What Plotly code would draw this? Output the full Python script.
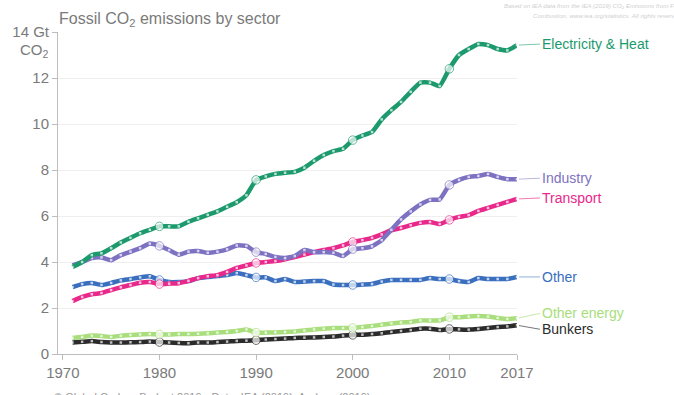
import plotly.graph_objects as go

years = list(range(1971, 2018))

electricity = [3.78, 4.0, 4.3, 4.38, 4.6, 4.85, 5.05, 5.25, 5.4, 5.55,
               5.55, 5.55, 5.75, 5.9, 6.05, 6.2, 6.4, 6.6, 6.9, 7.57,
               7.72, 7.83, 7.88, 7.92, 8.1, 8.4, 8.65, 8.82, 8.92, 9.3,
               9.5, 9.65, 10.2, 10.6, 10.96, 11.4, 11.8, 11.8, 11.65, 12.4,
               13.0, 13.26, 13.48, 13.43, 13.26, 13.2, 13.43]
industry = [3.85, 4.0, 4.17, 4.2, 4.08, 4.3, 4.45, 4.6, 4.8, 4.7,
            4.52, 4.32, 4.45, 4.48, 4.4, 4.45, 4.55, 4.72, 4.7, 4.43,
            4.35, 4.22, 4.17, 4.26, 4.52, 4.43, 4.43, 4.4, 4.26, 4.56,
            4.6, 4.68, 4.95, 5.4, 5.85, 6.2, 6.5, 6.7, 6.72, 7.35,
            7.57, 7.7, 7.74, 7.83, 7.7, 7.6, 7.6]
transport = [2.3, 2.48, 2.6, 2.65, 2.78, 2.9, 3.0, 3.1, 3.13, 3.04,
             3.06, 3.08, 3.18, 3.3, 3.38, 3.43, 3.57, 3.74, 3.85, 3.96,
             4.0, 4.04, 4.12, 4.22, 4.32, 4.43, 4.52, 4.6, 4.72, 4.87,
             4.95, 5.05, 5.2, 5.38, 5.48, 5.6, 5.7, 5.74, 5.65, 5.83,
             5.96, 6.04, 6.22, 6.35, 6.48, 6.61, 6.74]
other = [2.91, 3.04, 3.09, 3.0, 3.09, 3.2, 3.26, 3.33, 3.38, 3.22,
         3.13, 3.13, 3.17, 3.3, 3.35, 3.39, 3.43, 3.52, 3.43, 3.33,
         3.33, 3.17, 3.26, 3.13, 3.15, 3.17, 3.17, 3.02, 3.0, 3.0,
         3.02, 3.04, 3.15, 3.22, 3.22, 3.22, 3.22, 3.3, 3.26, 3.26,
         3.17, 3.13, 3.3, 3.26, 3.26, 3.26, 3.35]
other_energy = [0.7, 0.74, 0.8, 0.78, 0.74, 0.79, 0.83, 0.85, 0.87, 0.85,
                0.85, 0.87, 0.87, 0.88, 0.9, 0.93, 0.96, 1.0, 1.07, 0.93,
                0.93, 0.94, 0.96, 0.98, 1.02, 1.07, 1.1, 1.13, 1.13, 1.13,
                1.17, 1.22, 1.27, 1.33, 1.37, 1.39, 1.46, 1.46, 1.46, 1.6,
                1.6, 1.63, 1.65, 1.63, 1.57, 1.52, 1.55]
bunkers = [0.5, 0.53, 0.56, 0.52, 0.5, 0.5, 0.51, 0.52, 0.54, 0.52,
           0.5, 0.48, 0.47, 0.5, 0.5, 0.52, 0.54, 0.57, 0.58, 0.6,
           0.63, 0.65, 0.67, 0.7, 0.71, 0.72, 0.74, 0.76, 0.8, 0.83,
           0.84, 0.87, 0.9, 0.96, 1.0, 1.04, 1.1, 1.1, 1.04, 1.09,
           1.07, 1.06, 1.09, 1.13, 1.17, 1.2, 1.25]

x_ticks = [1970, 1980, 1990, 2000, 2010, 2017]
y_ticks = [0, 2, 4, 6, 8, 10, 12, 14]
y_tick_labels = ["0", "2", "4", "6", "8", "10", "12", "14 Gt"]

# name, values, line colour, leader colour, label vertical offset (px)
series = [
    ("Bunkers", bunkers, "#2b2b2b", "#777777", 4),
    ("Other energy", other_energy, "#a8de7c", "#c6eaa8", -5),
    ("Other", other, "#3a6fbf", "#8fb0dd", 0),
    ("Transport", transport, "#e8288a", "#f07ab6", -1),
    ("Industry", industry, "#7d71c2", "#bdb7e0", -1),
    ("Electricity & Heat", electricity, "#1c9a6e", "#7cc7ab", -1),
]

FONT = "Liberation Sans, Arial, Helvetica, sans-serif"

W, H = 674, 395
PL, PR, PT, PB = 53, 517, 32, 354  # plot area in figure pixels
PW, PH = PR - PL, PB - PT

fig = go.Figure()
annotations = []
for name, vals, col, lead, dy in series:
    decade = [(y % 10 == 0) for y in years]
    fig.add_trace(go.Scatter(
        x=years, y=vals, mode="lines+markers", name=name,
        line=dict(color=col, width=4.5, shape="spline", smoothing=0.4),
        marker=dict(
            symbol=["circle" if d else "square" for d in decade],
            size=[8.5 if d else 2.5 for d in decade],
            color="white",
            line=dict(color=[col if d else "white" for d in decade],
                      width=[1 if d else 0 for d in decade]),
        ),
        showlegend=False, hoverinfo="skip",
    ))
    annotations.append(dict(
        x=years[-1], y=vals[-1], xref="x", yref="y",
        text=name, showarrow=True, arrowhead=0, arrowwidth=1,
        arrowcolor=lead, ax=23, ay=dy, xanchor="left", yanchor="middle",
        standoff=2, font=dict(family=FONT, size=14, color=col),
    ))

def px(xp):
    return (xp - PL) / PW

def py(yp):
    return (PB - yp) / PH

annotations += [
    dict(x=px(52), y=py(20), xref="paper", yref="paper",
         text="Fossil CO<sub>2</sub> emissions by sector", showarrow=False,
         xanchor="left", yanchor="middle",
         font=dict(family=FONT, size=16, color="#7a7a7a")),
    dict(x=px(46), y=py(50), xref="paper", yref="paper",
         text="CO<sub>2</sub>", showarrow=False, xanchor="right", yanchor="middle",
         font=dict(family=FONT, size=15, color="#7a7a7a")),
    dict(x=px(502), y=py(6), xref="paper", yref="paper",
         text="<i>Based on IEA data from the IEA (2019) CO<sub>2</sub> Emissions from Fuel</i>",
         showarrow=False, xanchor="left", yanchor="middle",
         font=dict(family=FONT, size=6.2, color="#cfcfcf")),
    dict(x=px(531), y=py(16), xref="paper", yref="paper",
         text="<i>Combustion, www.iea.org/statistics. All rights reserved</i>",
         showarrow=False, xanchor="left", yanchor="middle",
         font=dict(family=FONT, size=6.2, color="#cfcfcf")),
    dict(x=px(47), y=py(389), xref="paper", yref="paper",
         text="© Global Carbon Budget 2019 • Data: IEA (2019); Andrew (2019)",
         showarrow=False, xanchor="left", yanchor="top",
         font=dict(family=FONT, size=11, color="#9a9a9a")),
]

fig.update_layout(
    width=W, height=H,
    margin=dict(l=PL, r=W - PR, t=PT, b=H - PB),
    paper_bgcolor="white", plot_bgcolor="white",
    font=dict(family=FONT, color="#7a7a7a"),
    annotations=annotations,
    xaxis=dict(
        range=[1969.5, 2017], tickvals=x_ticks, showgrid=False,
        showline=True, linecolor="#bdbdbd", linewidth=1,
        ticks="outside", ticklen=5, tickcolor="#bdbdbd",
        tickfont=dict(size=15, color="#7a7a7a"), zeroline=False,
    ),
    yaxis=dict(
        range=[0, 14], tickvals=y_ticks, ticktext=y_tick_labels,
        showgrid=True, gridcolor="#efefef", gridwidth=1,
        showline=True, linecolor="#bdbdbd", linewidth=1,
        ticks="outside", ticklen=5, tickcolor="#bdbdbd",
        tickfont=dict(size=15, color="#7a7a7a"), zeroline=False,
    ),
)

fig.write_html("out.html", config={"displayModeBar": False},
               post_script="document.body.style.margin='0';document.body.style.overflow='hidden';")
